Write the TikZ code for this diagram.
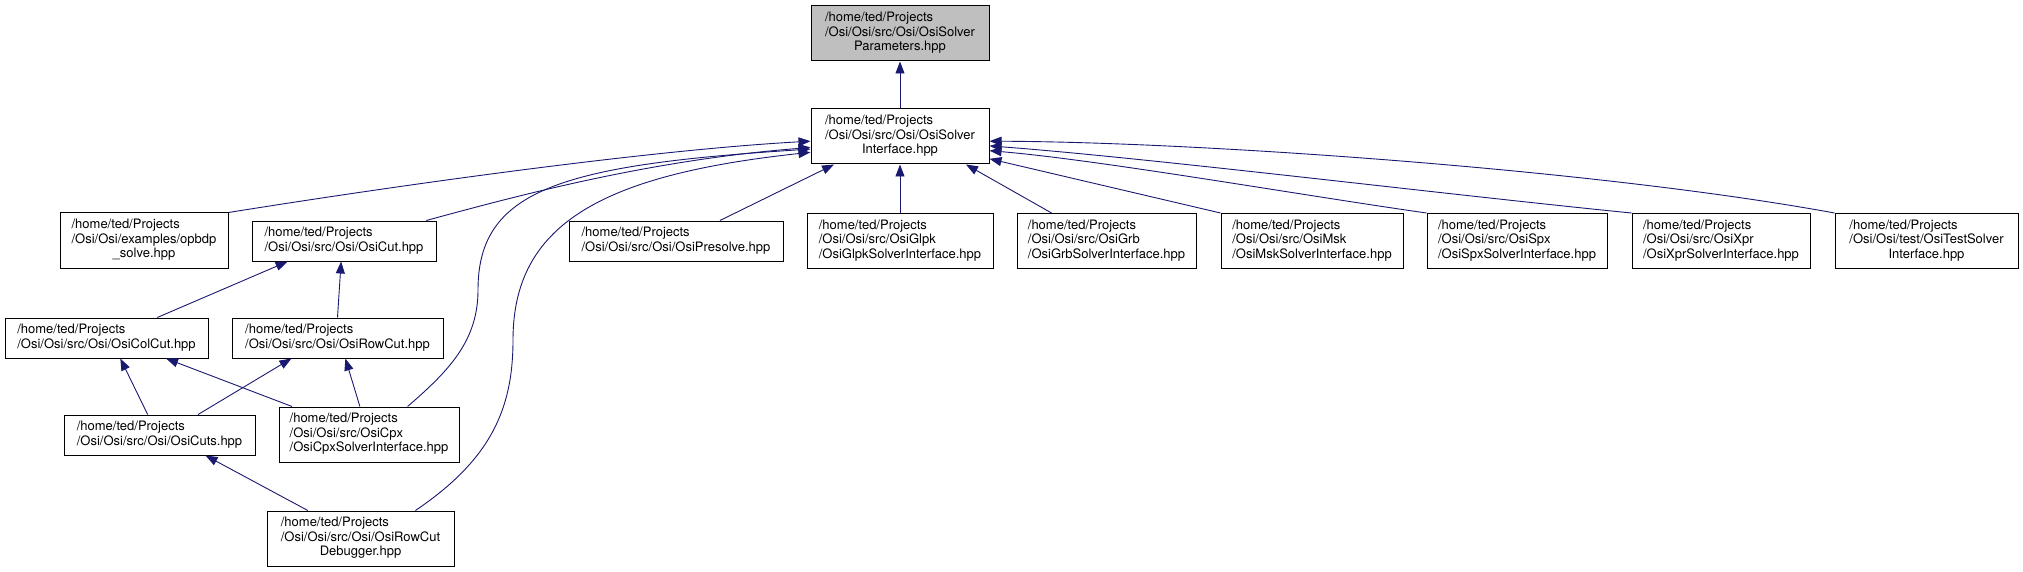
\documentclass[tikz,border=0pt]{standalone}
\usepackage{fontspec}
\setmainfont{TeX Gyre Heros}
\usepackage{tikz}
\usetikzlibrary{arrows.meta}
\definecolor{midnight}{HTML}{191970}

\newcommand{\twolines}[2]{\begin{tabular}{@{}l@{}}#1\\#2\end{tabular}}
\newcommand{\threelines}[3]{\begin{tabular}{@{}l@{}}#1\\#2\\\multicolumn{1}{@{}c@{}}{#3}\end{tabular}}

\tikzset{
    filebox/.style={draw=black, fill=white, line width=1pt, inner sep=0pt,
        minimum height=40pt, font=\fontsize{13}{14.5}\selectfont},
    tallbox/.style={filebox, minimum height=55pt},
    dep/.style={draw=midnight, line width=0.9pt, -{Triangle[length=12pt,width=9pt]}},
}

\begin{document}
\begin{tikzpicture}[x=1pt, y=-1pt]
    \useasboundingbox (0,0) rectangle (2023,572);

    % top of the graph
    \node[tallbox, fill=gray!50, minimum width=178pt] (params) at (900,33.5)
        {\threelines{/home/ted/Projects}{/Osi/Osi/src/Osi/OsiSolver}{Parameters.hpp}};
    \node[tallbox, minimum width=178pt] (iface) at (900,136.5)
        {\threelines{/home/ted/Projects}{/Osi/Osi/src/Osi/OsiSolver}{Interface.hpp}};

    % second row
    \node[tallbox, minimum width=168pt] (opbdp) at (144,240.5)
        {\threelines{/home/ted/Projects}{/Osi/Osi/examples/opbdp}{\_solve.hpp}};
    \node[filebox, minimum width=184pt] (cut) at (344,241)
        {\twolines{/home/ted/Projects}{/Osi/Osi/src/Osi/OsiCut.hpp}};
    \node[filebox, minimum width=214pt] (presolve) at (676,241)
        {\twolines{/home/ted/Projects}{/Osi/Osi/src/Osi/OsiPresolve.hpp}};
    \node[tallbox, minimum width=186pt] (glpk) at (900,241)
        {\threelines{/home/ted/Projects}{/Osi/Osi/src/OsiGlpk}{/OsiGlpkSolverInterface.hpp}};
    \node[tallbox, minimum width=179pt] (grb) at (1106.5,241)
        {\threelines{/home/ted/Projects}{/Osi/Osi/src/OsiGrb}{/OsiGrbSolverInterface.hpp}};
    \node[tallbox, minimum width=182pt] (msk) at (1312,241)
        {\threelines{/home/ted/Projects}{/Osi/Osi/src/OsiMsk}{/OsiMskSolverInterface.hpp}};
    \node[tallbox, minimum width=180pt] (spx) at (1517,241)
        {\threelines{/home/ted/Projects}{/Osi/Osi/src/OsiSpx}{/OsiSpxSolverInterface.hpp}};
    \node[tallbox, minimum width=178pt] (xpr) at (1721,241)
        {\threelines{/home/ted/Projects}{/Osi/Osi/src/OsiXpr}{/OsiXprSolverInterface.hpp}};
    \node[tallbox, minimum width=183pt] (test) at (1926.5,241)
        {\threelines{/home/ted/Projects}{/Osi/Osi/test/OsiTestSolver}{Interface.hpp}};

    % lower rows
    \node[filebox, minimum width=203pt] (colcut) at (106.5,338)
        {\twolines{/home/ted/Projects}{/Osi/Osi/src/Osi/OsiColCut.hpp}};
    \node[filebox, minimum width=211pt] (rowcut) at (337.5,338)
        {\twolines{/home/ted/Projects}{/Osi/Osi/src/Osi/OsiRowCut.hpp}};
    \node[filebox, minimum width=191pt] (cuts) at (159.5,435)
        {\twolines{/home/ted/Projects}{/Osi/Osi/src/Osi/OsiCuts.hpp}};
    \node[tallbox, minimum width=180pt] (cpx) at (369,434.5)
        {\threelines{/home/ted/Projects}{/Osi/Osi/src/OsiCpx}{/OsiCpxSolverInterface.hpp}};
    \node[tallbox, minimum width=187pt] (debugger) at (360.5,538.5)
        {\threelines{/home/ted/Projects}{/Osi/Osi/src/Osi/OsiRowCut}{Debugger.hpp}};

    % includes, arrow at the included file
    \draw[dep] (iface) -- (params);
    \draw[dep] (opbdp.north east) .. controls (400,185) and (650,150) .. (iface.183.5);
    \draw[dep] (cut.14) .. controls (520,195) and (650,160) .. (iface.187);
    \draw[dep] (cpx.36) .. controls (450,370) and (478,340) .. (478,290)
        .. controls (478,190) and (560,165) .. (iface.188.6);
    \draw[dep] (debugger.27) .. controls (490,460) and (513,410) .. (513,340)
        .. controls (513,225) and (600,175) .. (iface.190.5);
    \draw[dep] (presolve.25) -- (iface.-157.7);
    \draw[dep] (glpk) -- (iface);
    \draw[dep] (grb.153) -- (iface.-23.9);
    \draw[dep] (msk.north west) -- (iface.-14.8);
    \draw[dep] (spx.north west) .. controls (1300,195) and (1100,160) .. (iface.-9.3);
    \draw[dep] (xpr.north west) .. controls (1450,195) and (1150,158) .. (iface.-6.7);
    \draw[dep] (test.north west) .. controls (1600,170) and (1200,142) .. (iface.-3.5);

    \draw[dep] (colcut.22) -- (cut.-160);
    \draw[dep] (rowcut.north) -- (cut.-98);
    \draw[dep] (cuts.120) -- (colcut.-56);
    \draw[dep] (cpx.160) -- (colcut.-19);
    \draw[dep] (cuts.28) -- (rowcut.-156);
    \draw[dep] (cpx.108) -- (rowcut.-69);
    \draw[dep] (debugger.152) -- (cuts.-24);
\end{tikzpicture}
\end{document}
